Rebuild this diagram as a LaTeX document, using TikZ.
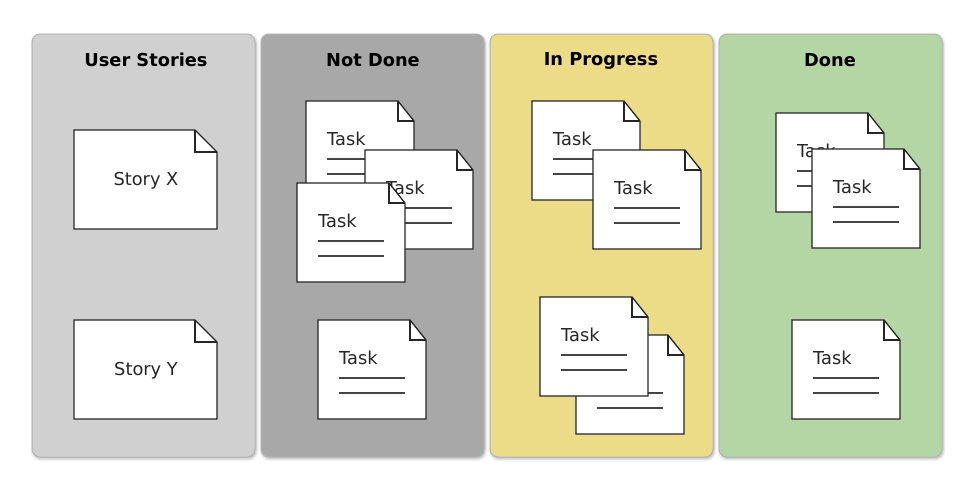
\documentclass[tikz,border=0pt]{standalone}
\usepackage{fontspec}
\setmainfont{DejaVu Sans}
\usetikzlibrary{shadows.blur}
\definecolor{colA}{HTML}{D0D0D0}
\definecolor{colB}{HTML}{A8A8A8}
\definecolor{colC}{HTML}{EDDC87}
\definecolor{colD}{HTML}{B4D5A4}
\definecolor{colEdge}{HTML}{B4B4B4}
\definecolor{inkline}{HTML}{454545}
\tikzset{
  column/.style={draw=colEdge, line width=1pt, rounded corners=8pt,
    blur shadow={shadow xshift=1pt, shadow yshift=-1.5pt, shadow blur radius=3pt, shadow opacity=35}},
  coltitle/.style={font=\fontsize{17.8}{20}\selectfont\bfseries, text=black, inner sep=0pt, anchor=base},
  notebody/.style={draw=black!85, fill=white, line width=1.3pt, line join=miter},
  notefold/.style={draw=black!85, line width=1.3pt},
  notetext/.style={font=\fontsize{17.8}{20}\selectfont, text=black!85, inner sep=0pt},
  taskline/.style={draw=inkline, line width=1.6pt},
  tasknote/.pic={
    \path[notebody] (0,0) -- (92,0) -- (108,20) -- (108,99) -- (0,99) -- cycle;
    \path[notefold] (92,0) -- (92,20) -- (108,20);
    \node[notetext, anchor=base west] (-t) at (21,44.5) {Task};
    \path[taskline] (21,58) -- (87,58);
    \path[taskline] (21,73) -- (87,73);
  },
  storynote/.pic={
    \path[notebody] (0,0) -- (121,0) -- (143,22) -- (143,99) -- (0,99) -- cycle;
    \path[notefold] (121,0) -- (121,22) -- (143,22);
  }
}
\begin{document}
\begin{tikzpicture}[x=1pt, y=-1pt]
\useasboundingbox (0,0) rectangle (975,488);
% columns
\path[column, fill=colA] (32,34) rectangle (255,457);
\path[column, fill=colB] (261,34) rectangle (484,457);
\path[column, fill=colC] (490,34) rectangle (713,457);
\path[column, fill=colD] (719,34) rectangle (942,457);
% titles
\node[coltitle] (t1) at (146,66) {User Stories};
\node[coltitle] (t2) at (373,66) {Not Done};
\node[coltitle] (t3) at (601,65) {In Progress};
\node[coltitle] (t4) at (830,66) {Done};
% user stories
\pic (sx) at (74,130) {storynote};
\node[notetext, anchor=base] (sxl) at (146,185) {Story X};
\pic (sy) at (74,320) {storynote};
\node[notetext, anchor=base] (syl) at (146,375) {Story Y};
% not done
\pic (nd1) at (306,101) {tasknote};
\pic (nd2) at (365,150) {tasknote};
\pic (nd3) at (297,183) {tasknote};
\pic (nd4) at (318,320) {tasknote};
% in progress
\pic (ip1) at (532,101) {tasknote};
\pic (ip2) at (593,150) {tasknote};
\pic (ip3) at (576,335) {tasknote};
\pic (ip4) at (540,297) {tasknote};
% done
\pic (d1) at (776,113) {tasknote};
\pic (d2) at (812,149) {tasknote};
\pic (d3) at (792,320) {tasknote};
\end{tikzpicture}
\end{document}
